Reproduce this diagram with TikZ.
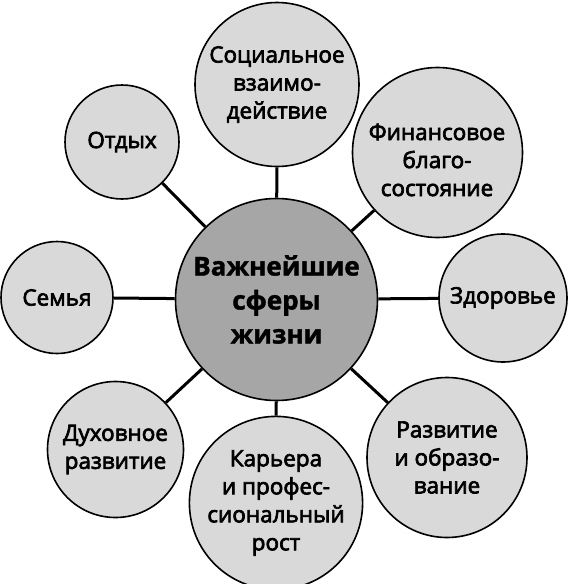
\documentclass[tikz,border=0pt]{standalone}
\usepackage{fontspec}
\setmainfont{Open Sans}
\newfontfamily\outerfont[FakeBold=3]{Open Sans}
\newfontfamily\hubfont[FakeBold=1.5]{Open Sans Bold}
\tikzset{
  sphere/.style={circle, draw=black, line width=1.6pt, fill=gray!30, inner sep=0pt, align=center,
    font=\outerfont\fontsize{22.5}{28}\selectfont},
  hub/.style={circle, draw=black, line width=1.6pt, fill=gray!70, inner sep=0pt, align=center,
    font=\hubfont\fontsize{26}{34}\selectfont},
  link/.style={line width=3pt, draw=black}
}
\begin{document}
\begin{tikzpicture}[x=1pt,y=-1pt]
\useasboundingbox (0,0) rectangle (570,584);
\node[hub, minimum size=202pt] (C) at (276.5,299.5) {Важнейшие\\сферы\\жизни};
\node[sphere, minimum size=164pt] (S) at (277,84.5) {Социальное\\взаимо-\\действие};
\node[sphere, minimum size=114pt] (O) at (122,142) {Отдых};
\node[sphere, minimum size=170pt] (F) at (437.5,152.5) {};
\node[font=\outerfont\fontsize{22.5}{28}\selectfont, align=center] (Ft) at (437,160) {Финансовое\\благо-\\состояние};
\node[sphere, minimum size=112pt] (Se) at (57,297.5) {Семья};
\node[sphere, minimum size=128pt] (Z) at (503,298) {Здоровье};
\node[sphere, minimum size=136pt] (D) at (115.5,449.5) {Духовное\\развитие};
\node[sphere, minimum size=160pt] (K) at (276,503) {Карьера\\и профес-\\сиональный\\рост};
\node[sphere, minimum size=160pt] (R) at (447,457.5) {Развитие\\и образо-\\вание};
\foreach \n in {S,O,F,Se,Z,D,K,R} \draw[link] (C) -- (\n);
\end{tikzpicture}
\end{document}
